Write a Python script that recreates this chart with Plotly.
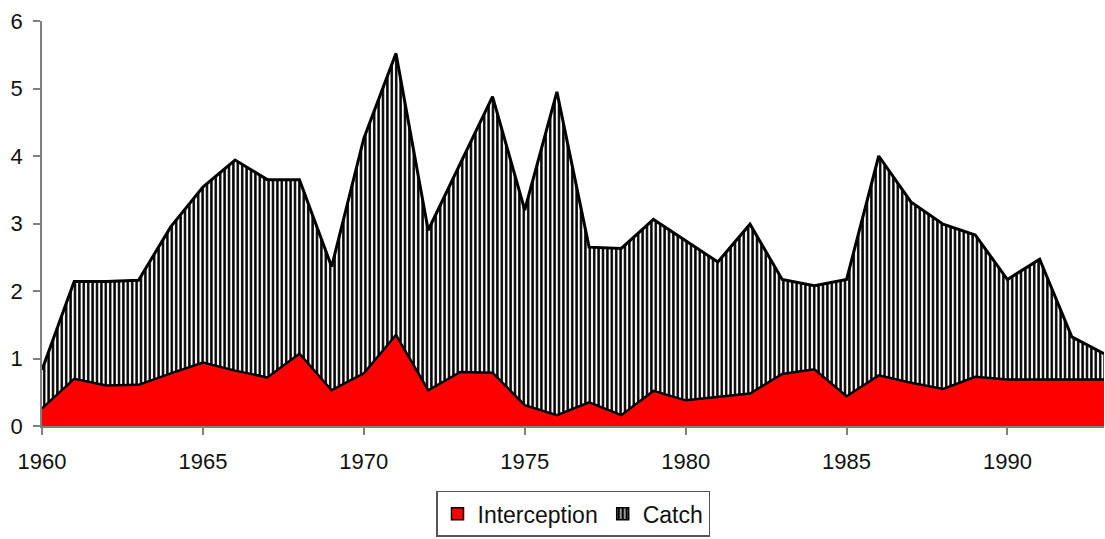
import plotly.graph_objects as go

years = list(range(1960, 1994))
# Upper (total) line of the patterned "Catch" area
catch_top = [0.83, 2.14, 2.14, 2.16, 2.95, 3.54, 3.94, 3.65, 3.65, 2.36,
             4.26, 5.52, 2.90, 3.89, 4.88, 3.20, 4.95, 2.65, 2.63, 3.06,
             2.75, 2.43, 2.99, 2.17, 2.08, 2.17, 4.00, 3.32, 2.99, 2.83,
             2.17, 2.47, 1.32, 1.07]
interception = [0.26, 0.70, 0.60, 0.61, 0.78, 0.94, 0.82, 0.72, 1.07, 0.53,
                0.78, 1.35, 0.53, 0.80, 0.79, 0.31, 0.16, 0.35, 0.16, 0.52,
                0.38, 0.43, 0.48, 0.77, 0.84, 0.44, 0.75, 0.64, 0.55, 0.73,
                0.69, 0.69, 0.69, 0.69]
x_ticks = [1960, 1965, 1970, 1975, 1980, 1985, 1990]
y_ticks = [0, 1, 2, 3, 4, 5, 6]

FONT = "Liberation Sans, Arial, sans-serif"

fig = go.Figure()
# Data traces (legend handled by square swatches below)
fig.add_trace(go.Scatter(
    x=years, y=catch_top, name="Catch", mode="lines",
    fill="tozeroy",
    fillpattern=dict(shape="|", fgcolor="black", bgcolor="white",
                     size=4.4, solidity=0.55, fillmode="replace"),
    line=dict(color="black", width=3),
    showlegend=False,
))
fig.add_trace(go.Scatter(
    x=years, y=interception, name="Interception", mode="lines",
    fill="tozeroy", fillcolor="#ff0000",
    line=dict(color="black", width=2.5),
    showlegend=False,
))
# Square legend swatches
fig.add_trace(go.Bar(
    x=[None], y=[None], name="Interception",
    marker=dict(color="#ff0000", line=dict(color="black", width=1.5)),
    legendrank=1,
))
fig.add_trace(go.Bar(
    x=[None], y=[None], name="Catch",
    marker=dict(color="black", line=dict(color="black", width=1.5),
                pattern=dict(shape="|", fgcolor="white", bgcolor="black",
                             size=5, solidity=0.3, fillmode="replace")),
    legendrank=2,
))

fig.update_layout(
    width=1105, height=539,
    margin=dict(l=42, r=1, t=21, b=113, autoexpand=False),
    paper_bgcolor="white", plot_bgcolor="white",
    font=dict(family=FONT, size=21, color="#111111"),
    showlegend=True,
    legend=dict(orientation="h", x=0.5, xanchor="center",
                yref="container", y=0.004, yanchor="bottom",
                bordercolor="#555555", borderwidth=1.5,
                font=dict(family=FONT, size=23, color="#111111"),
                itemwidth=30, tracegroupgap=0),
    xaxis=dict(range=[1960, 1993], tickvals=x_ticks, automargin=False,
               showgrid=False, zeroline=False,
               showline=True, linecolor="#808080", linewidth=1.5,
               ticks="outside", ticklen=7, tickcolor="#808080", tickwidth=1.5,
               tickfont=dict(size=22), ticklabelstandoff=8),
    yaxis=dict(range=[0, 6], tickvals=y_ticks, automargin=False,
               showgrid=False, zeroline=False,
               showline=True, linecolor="#808080", linewidth=1.5,
               ticks="outside", ticklen=7, tickcolor="#808080", tickwidth=1.5,
               tickfont=dict(size=22), ticklabelstandoff=6),
)

fig.write_html(
    "out.html",
    config={"displayModeBar": False},
    post_script="document.body.style.margin='0';document.body.style.overflow='hidden';",
)
